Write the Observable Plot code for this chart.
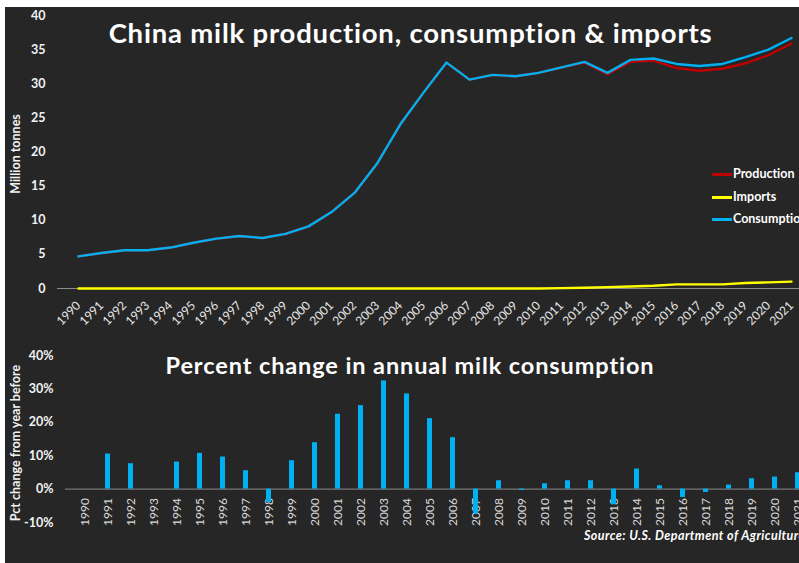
<!DOCTYPE html>
<html><head><meta charset="utf-8">
<script src="https://cdn.jsdelivr.net/npm/d3@7"></script>
<script src="https://cdn.jsdelivr.net/npm/@observablehq/plot@0.6"></script>
<style>
html,body{margin:0;padding:0;background:#fff;overflow:hidden;width:799px;height:563px;}
#panel{position:absolute;left:5px;top:7px;width:794px;height:556px;background:#262626;}
#topChart,#bottomChart{position:absolute;left:0;}
#topChart{top:0}
#bottomChart{top:340px}
svg text{font-variant-ligatures:none;}
.t{position:absolute;color:#fff;font-family:Lato, sans-serif;white-space:nowrap;line-height:1;font-variant-ligatures:none;}
.rot{transform:translate(-50%,-50%) rotate(-90deg);font-size:12.5px;font-weight:700;color:#f2f2f2;}
.lg{position:absolute;height:2.5px;width:20px;}
</style></head><body>
<div id="panel"></div>
<div id="topChart"></div><div id="bottomChart"></div>
<div class="t" style="left:0;width:821px;text-align:center;top:19px;font-size:27.5px;font-weight:700;letter-spacing:0.8px;">China milk production, consumption &amp; imports</div>
<div class="t" style="left:0;width:820px;text-align:center;top:353.5px;font-size:23.5px;font-weight:700;letter-spacing:0.9px;">Percent change in annual milk consumption</div>
<div class="t rot" style="left:16px;top:154px;">Million tonnes</div>
<div class="t rot" style="left:16px;top:443px;">Pct change from year before</div>
<div class="lg" style="left:712px;top:173px;background:#C00000"></div>
<div class="lg" style="left:712px;top:196px;background:#FFFF00"></div>
<div class="lg" style="left:712px;top:218px;background:#00B0F0"></div>
<div class="t" style="left:733px;top:168.3px;font-size:12.5px;font-weight:700;">Production</div>
<div class="t" style="left:733px;top:190.9px;font-size:12.5px;font-weight:700;">Imports</div>
<div class="t" style="left:733px;top:213.4px;font-size:12.5px;font-weight:700;">Consumption</div>
<div class="t" style="left:584px;top:530px;font-size:12.5px;font-weight:700;font-style:italic;letter-spacing:0.45px;">Source: U.S. Department of Agriculture</div>
<script>
const years = [1990,1991,1992,1993,1994,1995,1996,1997,1998,1999,2000,2001,2002,2003,2004,2005,2006,2007,2008,2009,2010,2011,2012,2013,2014,2015,2016,2017,2018,2019,2020,2021];
const consumption = [4.7,5.2,5.6,5.6,6.0,6.7,7.3,7.7,7.4,8.0,9.1,11.2,14.0,18.4,24.1,28.7,33.1,30.6,31.3,31.1,31.6,32.4,33.2,31.6,33.5,33.7,32.9,32.6,32.9,33.9,35.0,36.7];
const production = [4.7,5.2,5.6,5.6,6.0,6.7,7.3,7.7,7.4,8.0,9.1,11.2,14.0,18.4,24.1,28.7,33.1,30.6,31.3,31.1,31.6,32.4,33.1,31.4,33.2,33.4,32.3,31.9,32.2,33.0,34.2,35.9];
const imports = [0,0,0,0,0,0,0,0,0,0,0,0,0,0,0,0,0,0,0,0,0,0.05,0.1,0.2,0.3,0.4,0.6,0.6,0.6,0.8,0.9,1.0];
const pctChange = [0,10.5,7.6,0,8.1,10.7,9.6,5.5,-4.0,8.5,13.9,22.4,25.0,32.4,28.5,21.1,15.4,-7.5,2.5,-0.4,1.6,2.5,2.5,-4.7,6.0,1.0,-2.5,-1.0,1.2,3.1,3.6,4.9];
const yTicksTop = [0,5,10,15,20,25,30,35,40];
const yTicksBottom = [-10,0,10,20,30,40];

const rows = years.map((y,i)=>({year:String(y), production:production[i], imports:imports[i], consumption:consumption[i], pct:pctChange[i]}));
const yearLabels = years.map(String);
const font = "Lato, sans-serif";

const topPlot = Plot.plot({
  width: 799, height: 340,
  marginLeft: 57, marginRight: 0, marginTop: 15, marginBottom: 52,
  style: {background: "transparent", fontFamily: font, color: "#f2f2f2"},
  x: {type: "point", domain: yearLabels, range: [69, 799], padding: 0},
  y: {domain: [0, 40], range: [288, 15]},
  marks: [
    Plot.ruleY([0], {stroke: "#8c8c8c", strokeWidth: 1}),
    Plot.axisY({ticks: yTicksTop, tickSize: 0, tickPadding: 12, fontSize: 12.5, fontWeight: "bold", fill: "#f2f2f2", label: null}),
    Plot.axisX({tickRotate: -45, tickSize: 0, tickPadding: 15, fontSize: 12, fontWeight: "normal", fill: "#e6e6e6", label: null}),
    Plot.line(rows, {x: "year", y: "production", stroke: "#C00000", strokeWidth: 2.4}),
    Plot.line(rows, {x: "year", y: "imports", stroke: "#FFFF00", strokeWidth: 2.4}),
    Plot.line(rows, {x: "year", y: "consumption", stroke: "#00B0F0", strokeWidth: 2.4})
  ]
});
document.getElementById("topChart").appendChild(topPlot);

const bottomPlot = Plot.plot({
  width: 799, height: 223,
  marginLeft: 65, marginRight: 0, marginTop: 15, marginBottom: 41,
  style: {background: "transparent", fontFamily: font, color: "#f2f2f2"},
  x: {type: "band", domain: yearLabels, range: [77.5, 804.8], paddingInner: 0.785, paddingOuter: 0, axis: null},
  y: {domain: [-10, 40], range: [182, 15]},
  marks: [
    Plot.axisY({ticks: yTicksBottom, tickFormat: d => d + "%", tickSize: 0, tickPadding: 12, fontSize: 12.5, fontWeight: "bold", fill: "#f2f2f2", label: null}),
    Plot.text(rows, {x: "year", y: 0, text: "year", rotate: -90, textAnchor: "end", dy: 9, fontSize: 12, fill: "#d9d9d9"}),
    Plot.ruleY([0], {stroke: "#8c8c8c", strokeWidth: 1}),
    Plot.barY(rows, {x: "year", y: "pct", fill: "#00B0F0"})
  ]
});
document.getElementById("bottomChart").appendChild(bottomPlot);
</script>
</body></html>
